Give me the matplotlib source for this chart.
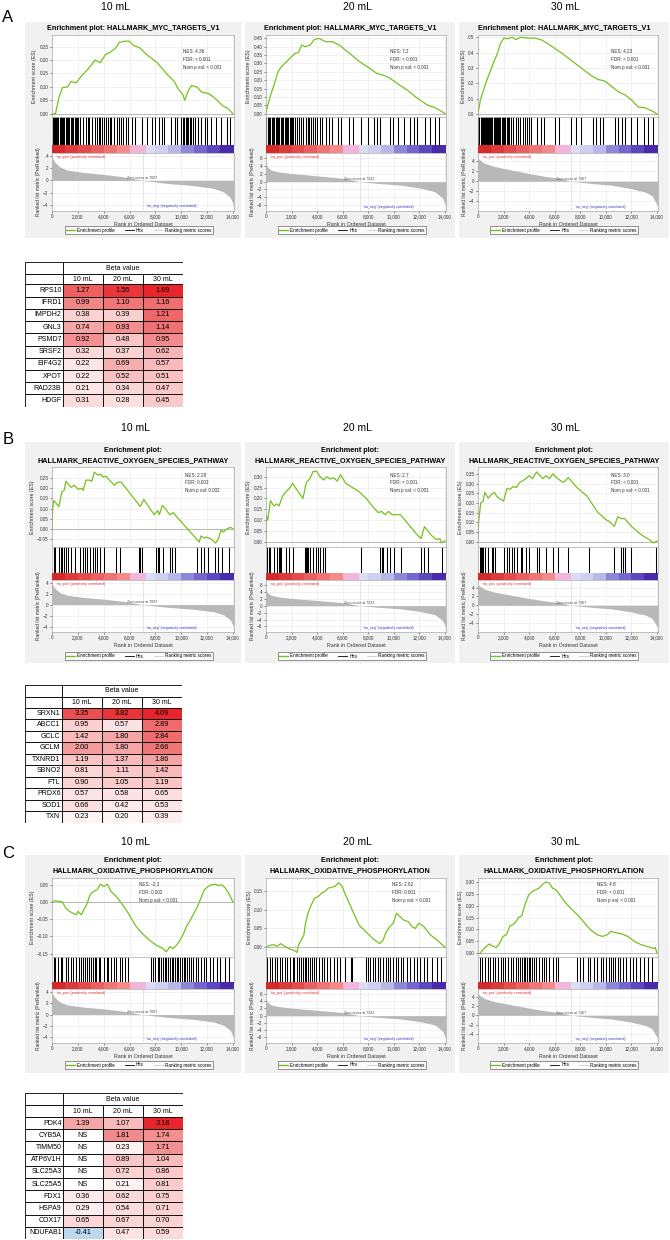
import matplotlib

matplotlib.use("Agg")
import matplotlib.pyplot as plt
import matplotlib.colors as mcolors
from matplotlib.lines import Line2D
from matplotlib.patches import Rectangle

W, H = 670, 1240
plt.rcParams["font.family"] = ["Liberation Sans", "DejaVu Sans"]

doses = ["10 mL", "20 mL", "30 mL"]

# ranked list metric, one per dose (shared by all pathways)
metric10_rank = [0, 150, 400, 700, 1200, 2500, 4000, 5500, 7007, 9000, 11000, 12500, 13300, 13800, 14050]
metric10_val = [3.9, 3.2, 2.6, 2.1, 1.7, 1.3, 1.0, 0.6, 0.0, -0.5, -0.85, -1.3, -1.9, -2.8, -4.1]
metric20_rank = [0, 100, 400, 1000, 2000, 3300, 4600, 6200, 7322, 8700, 10500, 12100, 13200, 13800, 14050]
metric20_val = [5.0, 3.8, 3.0, 2.5, 2.1, 1.7, 1.3, 0.8, 0.0, -0.45, -0.9, -1.7, -2.6, -4.2, -6.2]
metric30_rank = [0, 450, 1250, 2550, 3900, 5200, 6500, 7267, 9100, 10450, 12000, 13100, 13600, 13850, 14050]
metric30_val = [4.6, 3.7, 3.0, 2.3, 1.6, 1.0, 0.55, 0.0, -0.5, -0.8, -1.5, -2.2, -2.9, -4.0, -5.0]
zero_cross = [7007, 7322, 7267]

# ---- A: HALLMARK_MYC_TARGETS_V1
myc_title = ["Enrichment plot: HALLMARK_MYC_TARGETS_V1"]
myc_nes = ["4.36", "7.2", "4.23"]
myc_fdr = ["< 0.001", "< 0.001", "< 0.001"]
myc_pval = ["< 0.001", "< 0.001", "< 0.001"]
myc10_rank = [0, 267, 533, 800, 1200, 1467, 1867, 2267, 2667, 2933, 3333, 3733, 4133, 4533, 4933, 5200, 5600,
              6000, 6267, 6800, 7333, 8133, 8933, 9467, 9733, 10133, 10267, 10533, 10800, 11200, 11600,
              12133, 12667, 13200, 13600, 14000]
myc10_es = [0.0, 0.0, 0.06, 0.097, 0.10, 0.12, 0.115, 0.14, 0.16, 0.175, 0.20, 0.19, 0.22, 0.23, 0.245,
            0.265, 0.27, 0.27, 0.255, 0.245, 0.22, 0.19, 0.145, 0.12, 0.095, 0.07, 0.05, 0.085, 0.105,
            0.10, 0.08, 0.075, 0.055, 0.03, 0.02, 0.0]
myc10_hits = [60, 150, 230, 330, 420, 500, 600, 700, 780, 880, 950, 1050, 1150, 1250, 1350, 1450, 1550,
              1650, 1750, 1850, 1950, 2050, 2200, 2400, 2600, 2750, 2900, 3100, 3300, 3450, 3600, 3700,
              3850, 4000, 4150, 4300, 4450, 4600, 4800, 5000, 5200, 5350, 5500, 5700, 5900, 6200, 6450,
              6930, 7330, 7700, 8000, 8300, 8500, 8700, 9200, 9500, 9700, 10000, 10150, 10250, 10350,
              10450, 10550, 10650, 10750, 10900, 11100, 11300, 11500, 11800, 12000, 12300, 12700, 13100,
              13500, 13800]
myc20_rank = [0, 133, 400, 667, 933, 1200, 1467, 1867, 2267, 2533, 2800, 3067, 3467, 3733, 4133, 4667,
              5200, 5733, 6533, 7333, 8133, 8667, 9200, 9733, 10267, 11067, 11867, 12667, 13200, 13600,
              14000]
myc20_es = [0.0, 0.05, 0.12, 0.18, 0.25, 0.28, 0.30, 0.33, 0.36, 0.365, 0.41, 0.40, 0.41, 0.44, 0.45,
            0.43, 0.43, 0.41, 0.36, 0.31, 0.27, 0.24, 0.23, 0.21, 0.18, 0.14, 0.09, 0.05, 0.036, 0.02, 0.0]
myc20_hits = [30, 130, 250, 350, 450, 560, 650, 760, 850, 950, 1050, 1150, 1250, 1350, 1450, 1550, 1650,
              1750, 1850, 1950, 2050, 2150, 2300, 2450, 2600, 2750, 2900, 3100, 3250, 3400, 3550, 3700,
              3850, 4000, 4200, 4400, 4700, 4900, 5150, 5600, 5850, 6500, 6800, 7400, 8000, 8450, 8650,
              8900, 9700, 9950, 10300, 10800, 11300, 11550, 11850, 12400, 12800, 13200, 13500]
myc30_rank = [0, 184, 447, 710, 973, 1236, 1499, 1762, 2025, 2288, 2683, 2946, 3340, 3866, 4392, 4918,
              5444, 5970, 6496, 7285, 8074, 8863, 9389, 9915, 10441, 10967, 11493, 12019, 12545, 13071,
              13597, 14000]
myc30_es = [0.0, 0.09, 0.16, 0.225, 0.28, 0.34, 0.39, 0.46, 0.495, 0.49, 0.50, 0.485, 0.50, 0.495, 0.495,
            0.485, 0.46, 0.43, 0.40, 0.35, 0.30, 0.25, 0.225, 0.215, 0.18, 0.145, 0.125, 0.09, 0.045,
            0.04, 0.02, 0.0]
myc30_hits = [20, 100, 200, 280, 360, 450, 530, 610, 700, 790, 870, 960, 1050, 1130, 1220, 1300, 1400,
              1480, 1570, 1660, 1750, 1850, 1950, 2050, 2150, 2250, 2350, 2450, 2600, 2750, 2950, 3100,
              3300, 3500, 3700, 3850, 4000, 4150, 4650, 4900, 5200, 6000, 6350, 7300, 7700, 8050, 9000,
              9250, 9550, 9800, 10700, 10950, 11250, 11500, 12000, 12400, 13000, 13300, 13700]

# ---- B: HALLMARK_REACTIVE_OXYGEN_SPECIES_PATHWAY
ros_title = ["Enrichment plot:", "HALLMARK_REACTIVE_OXYGEN_SPECIES_PATHWAY"]
ros_nes = ["2.28", "2.7", "3.0"]
ros_fdr = ["0.003", "< 0.001", "< 0.001"]
ros_pval = ["0.002", "< 0.001", "< 0.001"]
ros10_rank = [0, 54, 134, 536, 750, 938, 1072, 1474, 1742, 2010, 2278, 2412, 2626, 2894, 3082, 3270,
              3538, 3752, 3966, 4154, 4824, 5092, 5360, 6834, 7102, 7906, 8174, 8308, 8522, 8710, 9112,
              9380, 9648, 11122, 11390, 11524, 11792, 11926, 12328, 12650, 12864, 13078, 13266, 13534,
              13802, 14000]
ros10_es = [0.0, 0.095, 0.14, 0.11, 0.18, 0.19, 0.235, 0.205, 0.215, 0.195, 0.20, 0.19, 0.24, 0.24,
            0.235, 0.28, 0.265, 0.27, 0.255, 0.26, 0.215, 0.23, 0.23, 0.11, 0.145, 0.07, 0.09, 0.07,
            0.115, 0.105, 0.07, 0.08, 0.06, -0.045, -0.065, -0.035, -0.045, -0.04, -0.05, -0.07, -0.05,
            -0.005, -0.015, 0.0, 0.008, 0.0]
ros10_hits = [134, 268, 536, 670, 804, 938, 1072, 1206, 1474, 1742, 2144, 2412, 2546, 2734, 2948, 3162,
              3296, 3484, 3752, 4020, 4958, 5226, 6700, 6834, 6968, 8040, 8174, 8308, 8576, 9112, 9246,
              9514, 11256, 11524, 11792, 12060, 12596, 12864, 13132, 13668]
ros20_rank = [0, 27, 134, 348, 616, 830, 1017, 1285, 1553, 1820, 2088, 2356, 2891, 3159, 3427, 3694,
              3962, 4230, 4497, 4765, 5033, 5300, 5568, 5836, 6238, 7308, 7844, 8379, 8781, 9048, 9316,
              9584, 9852, 10521, 11860, 12127, 12395, 12930, 13332, 13600, 13734, 14000]
ros20_es = [0.0, 0.12, 0.10, 0.19, 0.165, 0.175, 0.165, 0.21, 0.23, 0.245, 0.27, 0.245, 0.20, 0.275,
            0.29, 0.325, 0.325, 0.30, 0.285, 0.30, 0.29, 0.295, 0.28, 0.31, 0.27, 0.23, 0.20, 0.16,
            0.135, 0.14, 0.125, 0.14, 0.125, 0.125, 0.03, 0.015, 0.07, 0.03, 0.01, 0.015, -0.005, 0.005]
ros20_hits = [80, 214, 348, 616, 883, 1017, 1098, 1205, 1553, 1820, 2088, 3025, 3105, 3186, 3293, 3427,
              3694, 3882, 4042, 4230, 4497, 4631, 7442, 8914, 9048, 9182, 9450, 9718, 9985, 10521, 12127,
              12395, 12663, 13734]
ros30_rank = [0, 53, 213, 400, 533, 800, 1067, 1280, 1467, 1733, 2000, 2267, 2533, 2720, 2987, 3253,
              3520, 3733, 4000, 4267, 4587, 4853, 5067, 5333, 5600, 5867, 6133, 6667, 7067, 7733, 8533,
              9333, 10000, 10267, 10667, 10933, 11200, 11467, 12000, 12800, 13333, 13733, 14000]
ros30_es = [0.0, 0.105, 0.20, 0.21, 0.255, 0.225, 0.245, 0.255, 0.235, 0.22, 0.21, 0.275, 0.27, 0.285,
            0.28, 0.305, 0.315, 0.325, 0.34, 0.325, 0.36, 0.34, 0.325, 0.34, 0.325, 0.35, 0.33, 0.305,
            0.33, 0.28, 0.235, 0.155, 0.115, 0.105, 0.08, 0.13, 0.12, 0.12, 0.08, 0.035, 0.015, -0.005,
            0.005]
ros30_hits = [133, 213, 267, 320, 400, 533, 800, 1067, 1200, 1333, 2000, 2267, 2400, 2667, 2800, 3067,
              3333, 3467, 3733, 4000, 4587, 4800, 5333, 5867, 6267, 7067, 8667, 10667, 11200, 11333,
              11467, 12000, 13920]

# ---- C: HALLMARK_OXIDATIVE_PHOSPHORYLATION
ox_title = ["Enrichment plot:", "HALLMARK_OXIDATIVE_PHOSPHORYLATION"]
ox_nes = ["-2.3", "2.62", "4.8"]
ox_fdr = ["0.002", "0.001", "< 0.001"]
ox_pval = ["< 0.001", "< 0.001", "< 0.001"]
ox10_rank = [0, 268, 536, 804, 1072, 1340, 1608, 1876, 2010, 2278, 2466, 2680, 2948, 3216, 3484, 3752,
             4020, 4288, 4556, 4958, 5360, 5896, 6432, 6968, 7504, 8040, 8576, 8844, 9112, 9380, 9648,
             9916, 10184, 10452, 10720, 10988, 11256, 11524, 11792, 12060, 12328, 12596, 12864, 13132,
             13400, 13668, 14000]
ox10_es = [0.0, 0.004, 0.002, 0.0, -0.018, -0.027, -0.032, -0.037, -0.027, -0.037, -0.022, -0.008,
           0.022, 0.031, 0.036, 0.052, 0.045, 0.052, 0.031, 0.017, -0.003, -0.032, -0.067, -0.091, -0.11,
           -0.125, -0.135, -0.145, -0.13, -0.135, -0.125, -0.11, -0.091, -0.067, -0.052, -0.032, -0.013,
           0.012, 0.036, 0.045, 0.05, 0.052, 0.048, 0.05, 0.041, 0.026, 0.0]
ox10_hits = [134, 268, 482, 670, 804, 1072, 1206, 1474, 1662, 1876, 2090, 2278, 2412, 2546, 2734, 2894,
             3002, 3162, 3296, 3430, 3618, 3752, 4020, 4234, 4342, 4556, 4770, 4958, 5226, 5414, 5682,
             5896, 7638, 7826, 7986, 8174, 8308, 8442, 8576, 8710, 8844, 8978, 9112, 9246, 9380, 9514,
             9648, 9782, 9916, 10050, 10184, 10318, 10452, 10586, 10720, 10934, 11122, 11310, 11524,
             11738, 11926, 12194, 12462, 12730, 12998, 13400, 13722]
ox20_rank = [0, 347, 613, 880, 1147, 1413, 1813, 2213, 2427, 2533, 2747, 2960, 3067, 3280, 3547, 3813,
             4080, 4347, 4613, 4880, 5147, 5413, 5680, 5947, 6213, 6747, 7280, 7813, 8347, 8880, 9147,
             9413, 9680, 9947, 10213, 10480, 10747, 11147, 11413, 11680, 11947, 12347, 12880, 13413,
             13813, 14000]
ox20_es = [0.0, 0.005, 0.006, 0.002, 0.009, 0.003, -0.005, -0.009, -0.015, 0.005, 0.018, 0.032, 0.059,
           0.091, 0.114, 0.132, 0.136, 0.145, 0.15, 0.159, 0.161, 0.164, 0.173, 0.164, 0.141, 0.10, 0.059,
           0.041, 0.023, 0.009, 0.018, 0.041, 0.055, 0.064, 0.091, 0.082, 0.073, 0.068, 0.055, 0.05,
           0.064, 0.055, 0.032, 0.018, 0.005, 0.0]
ox20_hits = [80, 293, 480, 667, 880, 1093, 1280, 1467, 1680, 1893, 2080, 2213, 2427, 2613, 2747, 2880,
             3013, 3147, 3280, 3413, 3600, 3760, 3947, 4133, 4347, 4560, 4747, 5013, 5280, 5547, 5813,
             6213, 6613, 6747, 7813, 7947, 8133, 8347, 8560, 8747, 8933, 9147, 9360, 9547, 9733, 9947,
             10160, 10347, 10533, 10747, 11013, 11280, 11547, 11813, 12080, 12347, 12613, 13013, 13360,
             13680]
ox30_rank = [0, 161, 348, 616, 883, 1151, 1419, 1687, 1954, 2222, 2490, 2757, 3025, 3159, 3427, 3694,
             3962, 4230, 4497, 4765, 5033, 5300, 5568, 5836, 6104, 6505, 6907, 7442, 7977, 8781, 9316,
             9718, 10119, 10387, 10655, 11190, 11725, 12261, 12796, 13331, 13732, 13866, 14000]
ox30_es = [0.0, -0.003, 0.012, 0.026, 0.038, 0.029, 0.023, 0.041, 0.07, 0.077, 0.114, 0.121, 0.136,
           0.15, 0.157, 0.208, 0.245, 0.26, 0.267, 0.274, 0.289, 0.30, 0.296, 0.274, 0.267, 0.238, 0.208,
           0.179, 0.15, 0.099, 0.077, 0.07, 0.077, 0.092, 0.087, 0.082, 0.07, 0.048, 0.034, 0.026, 0.019,
           0.023, 0.0]
ox30_hits = [161, 348, 535, 750, 964, 1151, 1339, 1553, 1767, 1954, 2142, 2356, 2570, 2757, 2945, 3159,
             3293, 3427, 3561, 3694, 3828, 3962, 4096, 4230, 4364, 4551, 4765, 4979, 5167, 5354, 5568,
             5836, 6104, 6237, 7710, 7977, 8245, 8566, 8781, 9048, 9316, 9584, 9798, 9985, 10253, 10387,
             10521, 10708, 10922, 11136, 11324, 11591, 11859, 12127, 12395, 12662, 13010, 13331, 13599]

# ranked-list colour bar (block edges and colours)
cbar_edges = [0, 1000, 2000, 3000, 4000, 5000, 6000, 7300, 8000, 9000, 10000, 11000, 12000, 13000, 14100]
cbar_colors = ["#d42a2a", "#dc3b3b", "#e44c4c", "#ea6060", "#ef7474", "#f48a8a", "#f2b6da", "#dcdcf4",
               "#cfcff0", "#b8b8e8", "#8c88d8", "#7466cc", "#5b48bc", "#4a2aac"]

# ---- tables
genes_a = ["RPS10", "IFRD1", "IMPDH2", "GNL3", "PSMD7", "SRSF2", "EIF4G2", "XPOT", "RAD23B", "HDGF"]
beta10_a = [1.27, 0.99, 0.38, 0.74, 0.92, 0.32, 0.22, 0.22, 0.21, 0.31]
beta20_a = [1.56, 1.10, 0.39, 0.93, 0.48, 0.37, 0.69, 0.52, 0.34, 0.28]
beta30_a = [1.69, 1.16, 1.21, 1.14, 0.95, 0.62, 0.57, 0.51, 0.47, 0.45]
genes_b = ["SRXN1", "ABCC1", "GCLC", "GCLM", "TXNRD1", "SBNO2", "FTL", "PRDX6", "SOD1", "TXN"]
beta10_b = [3.35, 0.95, 1.42, 2.00, 1.19, 0.81, 0.90, 0.57, 0.66, 0.23]
beta20_b = [3.82, 0.57, 1.80, 1.80, 1.37, 1.11, 1.05, 0.58, 0.42, 0.20]
beta30_b = [4.09, 2.89, 2.84, 2.66, 1.86, 1.42, 1.19, 0.65, 0.53, 0.39]
genes_c = ["PDK4", "CYB5A", "TIMM50", "ATP6V1H", "SLC25A3", "SLC25A5", "FDX1", "HSPA9", "COX17", "NDUFAB1"]
beta10_c = [1.39, None, None, None, None, None, 0.36, 0.29, 0.65, -0.41]
beta20_c = [1.07, 1.81, 0.23, 0.89, 0.72, 0.21, 0.62, 0.54, 0.67, 0.47]
beta30_c = [3.18, 1.74, 1.71, 1.04, 0.86, 0.81, 0.75, 0.71, 0.70, 0.59]

GREEN = "#76c11c"
BETA_CMAP = mcolors.LinearSegmentedColormap.from_list("beta", ["#ffffff", "#f39a9a", "#e8252a"])


def px_axes(fig, x0, y0, x1, y1):
    return fig.add_axes([x0 / W, 1 - y1 / H, (x1 - x0) / W, (y1 - y0) / H])


def px_rect(fig, x0, y0, x1, y1, color):
    fig.patches.append(Rectangle((x0 / W, 1 - y1 / H), (x1 - x0) / W, (y1 - y0) / H,
                                 transform=fig.transFigure, facecolor=color, edgecolor="none", zorder=-5))


def px_text(fig, x, y, s, **kw):
    fig.text(x / W, 1 - y / H, s, ha="center", va="center", **kw)


def style_axes(ax):
    for sp in ax.spines.values():
        sp.set_color("#aaaaaa")
        sp.set_linewidth(0.5)
    ax.tick_params(labelsize=3.3, length=1.5, width=0.4, pad=1, colors="#333333")
    ax.grid(True, color="#e6e6e6", lw=0.4)
    ax.set_axisbelow(True)


def draw_gsea(fig, xs, bgx, geom, title, ranks, es, es_ylim, es_ticks, es_fmt, hits, stats, nes_pos,
              m_rank, m_val, m_ylim, m_ticks, zc):
    x0, x1 = xs
    px_rect(fig, bgx[0], geom["bg"][0], bgx[1], geom["bg"][1], "#f1f1f1")
    for line, ty in zip(title, geom["title"]):
        px_text(fig, (bgx[0] + bgx[1]) / 2, ty, line, fontsize=5.2, fontweight="bold")
    xmax = 14080

    ax = px_axes(fig, x0, geom["es"][0], x1, geom["es"][1])
    style_axes(ax)
    ax.axhline(0, color="#b0b0b0", lw=0.6)
    ax.plot(ranks, es, color=GREEN, lw=0.9)
    ax.set_xlim(0, xmax)
    ax.set_ylim(*es_ylim)
    ax.set_yticks(es_ticks)
    ax.set_yticklabels([es_fmt.format(t).replace("-", "\u2212") for t in es_ticks])
    ax.set_xticks(range(0, 14001, 2000))
    ax.tick_params(axis="x", labelbottom=False, length=0)
    ax.set_ylabel("Enrichment score (ES)", fontsize=3.8, labelpad=1.5, color="#333333")
    ax.text(nes_pos[0], nes_pos[1], "NES: %s\nFDR: %s\nNom p val: %s" % stats, transform=ax.transAxes,
            fontsize=3.3, va="top", ha="left", linespacing=1.7, color="#333333")

    axh = px_axes(fig, x0, geom["hits"][0], x1, geom["hits"][1])
    axh.vlines(hits, 0, 1, color="black", lw=0.75)
    axh.set_xlim(0, xmax)
    axh.set_ylim(0, 1)
    axh.set_xticks([])
    axh.set_yticks([])
    for sp in axh.spines.values():
        sp.set_color("#aaaaaa")
        sp.set_linewidth(0.5)

    axc = px_axes(fig, x0, geom["cbar"][0], x1, geom["cbar"][1])
    for e0, e1, c in zip(cbar_edges[:-1], cbar_edges[1:], cbar_colors):
        axc.axvspan(e0, e1, color=c, lw=0)
    axc.set_xlim(0, xmax)
    axc.set_xticks([])
    axc.set_yticks([])
    for sp in axc.spines.values():
        sp.set_visible(False)

    axm = px_axes(fig, x0, geom["metric"][0], x1, geom["metric"][1])
    style_axes(axm)
    axm.fill_between(m_rank, m_val, 0, color="#b8b8b8", lw=0)
    axm.axvline(zc, color="#888888", lw=0.4, ls=":")
    axm.set_xlim(0, xmax)
    axm.set_ylim(*m_ylim)
    axm.set_yticks(m_ticks)
    axm.set_xticks(range(0, 14001, 2000))
    axm.set_xticklabels(["{:,}".format(t) for t in range(0, 14001, 2000)])
    axm.set_xlabel("Rank in Ordered Dataset", fontsize=3.8, labelpad=1.5, color="#333333")
    axm.set_ylabel("Ranked list metric (PreRanked)", fontsize=3.5, labelpad=1.5, color="#333333")
    axm.text(0.02, 0.97, "'na_pos' (positively correlated)", transform=axm.transAxes, fontsize=2.6,
             color="#e03030", va="top")
    axm.text(zc, 0.1, "Zero cross at %d" % zc, fontsize=2.6, color="#444444", ha="center", va="bottom")
    axm.text(zc + 300, m_ylim[0] * 0.85, "'na_neg' (negatively correlated)", fontsize=2.6,
             color="#3535c0", ha="left", va="center")

    handles = [Line2D([], [], color=GREEN, lw=1.0), Line2D([], [], color="black", lw=0.6),
               Line2D([], [], color="#cccccc", lw=0.6)]
    leg = fig.legend(handles, ["Enrichment profile", "Hits", "Ranking metric scores"], loc="center",
                     bbox_to_anchor=(((x0 + x1) / 2 - 4) / W, 1 - geom["legend"] / H), ncol=3, fontsize=3.3,
                     frameon=True, fancybox=False, handlelength=2.0, columnspacing=2.2, handletextpad=0.4,
                     borderpad=0.35)
    leg.get_frame().set_edgecolor("#444444")
    leg.get_frame().set_linewidth(0.5)


def cell_color(v, vmax):
    if v is None:
        return "#ffffff"
    if v < 0:
        return "#bdd7ee"
    return BETA_CMAP(min(v / vmax, 1.0))


def draw_table(fig, x0, y0, name_w, col_w, h1, h2, row_h, genes, cols):
    total_w = name_w + 3 * col_w
    total_h = h1 + h2 + row_h * len(genes)
    ax = px_axes(fig, x0, y0, x0 + total_w, y0 + total_h)
    ax.set_xlim(0, total_w)
    ax.set_ylim(total_h, 0)
    ax.axis("off")
    vmax = max(v for col in cols for v in col if v is not None)
    kw = dict(edgecolor="black", lw=0.6)
    ax.add_patch(Rectangle((0, 0), name_w, h1, facecolor="white", **kw))
    ax.add_patch(Rectangle((0, h1), name_w, h2, facecolor="white", **kw))
    ax.add_patch(Rectangle((name_w, 0), 3 * col_w, h1, facecolor="white", **kw))
    ax.text(name_w + 1.5 * col_w, h1 / 2, "Beta value", ha="center", va="center", fontsize=5.0)
    for j, dose in enumerate(doses):
        cx = name_w + j * col_w
        ax.add_patch(Rectangle((cx, h1), col_w, h2, facecolor="white", **kw))
        ax.text(cx + col_w / 2, h1 + h2 / 2, dose, ha="center", va="center", fontsize=5.0)
    for i, g in enumerate(genes):
        ry = h1 + h2 + i * row_h
        ax.add_patch(Rectangle((0, ry), name_w, row_h, facecolor="white", **kw))
        ax.text(name_w - 1.5, ry + row_h / 2, g, ha="right", va="center", fontsize=5.0)
        for j, col in enumerate(cols):
            v = col[i]
            cx = name_w + j * col_w
            ax.add_patch(Rectangle((cx, ry), col_w, row_h, facecolor=cell_color(v, vmax), **kw))
            ax.text(cx + col_w / 2, ry + row_h / 2, "NS" if v is None else "%.2f" % v,
                    ha="center", va="center", fontsize=5.3)


fig = plt.figure(figsize=(W / 100, H / 100), dpi=100)

cols_x = [(52, 234), (266, 446), (478, 658)]
bg_x = [(25, 241), (245, 455), (459, 669)]
metric_sets = [(metric10_rank, metric10_val, (-5.0, 4.5), [4, 2, 0, -2, -4]),
               (metric20_rank, metric20_val, (-7.6, 7.4), [6, 4, 2, 0, -2, -4, -6]),
               (metric30_rank, metric30_val, (-6.0, 5.7), [4, 2, 0, -2, -4])]

geom_a = dict(bg=(22, 238), title=[28], es=(35, 117), hits=(117, 145), cbar=(145, 153), metric=(153, 211),
              legend=230)
geom_b = dict(bg=(442, 663), title=[450, 461], es=(467, 547), hits=(547, 573), cbar=(573, 580),
              metric=(580, 632), legend=656)
geom_c = dict(bg=(855, 1073), title=[860, 871], es=(878, 957), hits=(957, 982), cbar=(982, 989),
              metric=(989, 1043), legend=1065)

rows = [
    ("A", geom_a, 7, 18, [115, 357, 565], myc_title,
     [(myc10_rank, myc10_es, myc10_hits, (-0.012, 0.293), [0, 0.05, 0.10, 0.15, 0.20, 0.25], "{:.2f}", (0.72, 0.83)),
      (myc20_rank, myc20_es, myc20_hits, (-0.02, 0.47), [0, .05, .1, .15, .2, .25, .3, .35, .4, .45], "{:.2f}", (0.69, 0.83)),
      (myc30_rank, myc30_es, myc30_hits, (-0.02, 0.515), [0, 0.1, 0.2, 0.3, 0.4, 0.5], "{:.1f}", (0.74, 0.83))],
     myc_nes, myc_fdr, myc_pval),
    ("B", geom_b, 428, 440, [135, 357, 565], ros_title,
     [(ros10_rank, ros10_es, ros10_hits, (-0.089, 0.305), [-0.05, 0, 0.05, 0.10, 0.15, 0.20, 0.25], "{:.2f}", (0.73, 0.93)),
      (ros20_rank, ros20_es, ros20_hits, (-0.024, 0.345), [0, 0.05, 0.10, 0.15, 0.20, 0.25, 0.30], "{:.2f}", (0.69, 0.93)),
      (ros30_rank, ros30_es, ros30_hits, (-0.026, 0.385), [0, .05, .1, .15, .2, .25, .3, .35], "{:.2f}", (0.74, 0.93))],
     ros_nes, ros_fdr, ros_pval),
    ("C", geom_c, 842, 853, [135, 357, 565], ox_title,
     [(ox10_rank, ox10_es, ox10_hits, (-0.16, 0.07), [-0.15, -0.10, -0.05, 0, 0.05], "{:.2f}", (0.48, 0.95)),
      (ox20_rank, ox20_es, ox20_hits, (-0.027, 0.186), [0, 0.05, 0.10, 0.15], "{:.2f}", (0.70, 0.95)),
      (ox30_rank, ox30_es, ox30_hits, (-0.017, 0.317), [0, .05, .1, .15, .2, .25, .3], "{:.2f}", (0.66, 0.95))],
     ox_nes, ox_fdr, ox_pval),
]

for label, geom, dose_y, label_y, dose_x, title, plots, nes, fdr, pval in rows:
    px_text(fig, 8, label_y, label, fontsize=12)
    for j in range(3):
        px_text(fig, dose_x[j], dose_y, doses[j], fontsize=7.5)
        ranks, es, hits, ylim, ticks, fmt, npos = plots[j]
        m_rank, m_val, m_ylim, m_ticks = metric_sets[j]
        draw_gsea(fig, cols_x[j], bg_x[j], geom, title, ranks, es, ylim, ticks, fmt, hits,
                  (nes[j], fdr[j], pval[j]), npos, m_rank, m_val, m_ylim, m_ticks, zero_cross[j])

draw_table(fig, 25, 262, 38, 40, 12, 10.3, 12.24, genes_a, [beta10_a, beta20_a, beta30_a])
draw_table(fig, 25, 685, 37, 40, 11.7, 11, 11.5, genes_b, [beta10_b, beta20_b, beta30_b])
draw_table(fig, 25, 1093, 38, 40, 12.4, 11.6, 12.2, genes_c, [beta10_c, beta20_c, beta30_c])

fig.savefig("out.png", dpi=100)
